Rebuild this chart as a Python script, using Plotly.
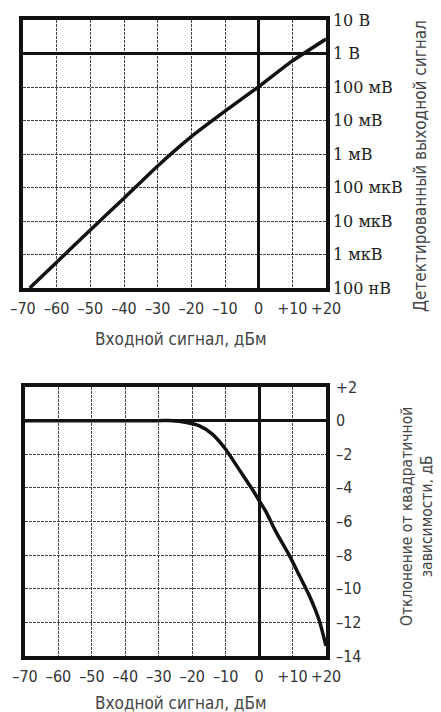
import plotly.graph_objects as go

# ---- data ----
x_ticks = [-70, -60, -50, -40, -30, -20, -10, 0, 10, 20]
x_tick_labels = ["–70", "–60", "–50", "–40", "–30", "–20", "–10", "0", "+10", "+20"]

# top chart: detected output voltage (V) vs input power (dBm)
det_in_dbm = [-68, -60, -50, -40, -30, -20, -10, 0, 10, 20]
det_out_v = [1e-7, 5.9e-7, 5.4e-6, 4.8e-5, 4.4e-4, 3.3e-3, 0.019, 0.102, 0.60, 2.7]

v_tick_vals = [10, 1, 0.1, 0.01, 1e-3, 1e-4, 1e-5, 1e-6, 1e-7]
v_tick_labels = ["10 В", "1 В", "100 мВ", "10 мВ", "1 мВ", "100 мкВ", "10 мкВ", "1 мкВ", "100 нВ"]
v_ref_level = 1

# bottom chart: deviation from square law (dB)
dev_in_dbm = [-70, -40, -30, -26, -22, -18, -14, -10, -6, -2, 0, 2, 5, 9, 12, 15, 18, 20]
dev_db = [0, 0, 0, 0, -0.1, -0.3, -0.8, -1.7, -2.9, -4.1, -4.75, -5.4, -6.6, -8.0, -9.2, -10.4, -11.9, -13.4]

db_tick_vals = [2, 0, -2, -4, -6, -8, -10, -12, -14]
db_tick_labels = ["+2", "0", "–2", "–4", "–6", "–8", "–10", "–12", "–14"]

# ---- layout constants ----
OFF = 8                      # page body margin of the html page
W, H = 441 - OFF, 712 - OFF  # figure size so that it fits in the window
sans = "Liberation Sans Narrow, DejaVu Sans Condensed, DejaVu Sans, sans-serif"
tick_font = dict(family=sans, size=16, color="#333")
vlabel_font = dict(family="DejaVu Serif, Liberation Serif, serif", size=16, color="#222")
title_font = dict(family=sans, size=17, color="#444")
title_font_small = dict(family=sans, size=15.5, color="#444")
grid_col = "#444"

def px_x(p):
    return (p - OFF) / W

def px_y(p):
    return 1 - (p - OFF) / H

fig = go.Figure()

fig.add_trace(go.Scatter(x=det_in_dbm, y=det_out_v, mode="lines",
                         line=dict(color="#111", width=3.5, shape="spline", smoothing=0.4),
                         xaxis="x", yaxis="y", showlegend=False, hoverinfo="skip"))
fig.add_trace(go.Scatter(x=dev_in_dbm, y=dev_db, mode="lines",
                         line=dict(color="#111", width=3.5, shape="spline", smoothing=0.6),
                         xaxis="x2", yaxis="y2", showlegend=False, hoverinfo="skip"))

common_x = dict(range=[-70, 20], tickvals=x_ticks, ticktext=x_tick_labels,
                showgrid=True, gridcolor=grid_col, griddash="3px,1px", gridwidth=1,
                showline=True, linecolor="#111", linewidth=3.5, mirror=True,
                zeroline=True, zerolinecolor="#111", zerolinewidth=3,
                ticks="", tickfont=tick_font, ticklabelstandoff=3,
                automargin=False, fixedrange=True)

fig.update_layout(
    template="none",
    width=W, height=H,
    margin=dict(l=0, r=0, t=0, b=0, pad=0),
    paper_bgcolor="white", plot_bgcolor="white",
    xaxis=dict(domain=[px_x(23), px_x(326)], anchor="y", **common_x),
    yaxis=dict(domain=[px_y(288), px_y(20)], anchor="x", type="log", side="right",
               range=[-7, 1], tickvals=v_tick_vals, ticktext=v_tick_labels,
               showgrid=True, gridcolor=grid_col, griddash="3px,1px", gridwidth=1,
               showline=True, linecolor="#111", linewidth=3.5, mirror=True,
               ticks="", tickfont=vlabel_font, ticklabelstandoff=0,
               automargin=False, fixedrange=True),
    xaxis2=dict(domain=[px_x(25), px_x(326)], anchor="y2", **common_x),
    yaxis2=dict(domain=[px_y(656), px_y(387)], anchor="x2", side="right",
                range=[-14, 2], tickvals=db_tick_vals, ticktext=db_tick_labels,
                showgrid=True, gridcolor=grid_col, griddash="3px,1px", gridwidth=1,
                showline=True, linecolor="#111", linewidth=3.5, mirror=True,
                zeroline=True, zerolinecolor="#111", zerolinewidth=3,
                ticks="", tickfont=tick_font, ticklabelstandoff=3,
                automargin=False, fixedrange=True),
)

# thick reference line at 1 V on top chart
fig.add_shape(type="line", xref="x", yref="y", x0=-70, x1=20, y0=v_ref_level, y1=v_ref_level,
              line=dict(color="#111", width=3), layer="above")

# axis titles as annotations
fig.add_annotation(text="Входной сигнал, дБм", xref="paper", yref="paper",
                   x=px_x(180), y=px_y(339), showarrow=False, font=title_font,
                   xanchor="center", yanchor="middle")
fig.add_annotation(text="Входной сигнал, дБм", xref="paper", yref="paper",
                   x=px_x(180), y=px_y(703), showarrow=False, font=title_font,
                   xanchor="center", yanchor="middle")
fig.add_annotation(text="Детектированный выходной сигнал", xref="paper", yref="paper",
                   x=px_x(420), y=px_y(166), showarrow=False, font=title_font, textangle=-90,
                   xanchor="center", yanchor="middle")
fig.add_annotation(text="Отклонение от квадратичной<br>зависимости, дБ", xref="paper", yref="paper",
                   x=px_x(417), y=px_y(517), showarrow=False, font=title_font_small, textangle=-90,
                   xanchor="center", yanchor="middle")

fig.write_html("out.html", config={"displayModeBar": False})
